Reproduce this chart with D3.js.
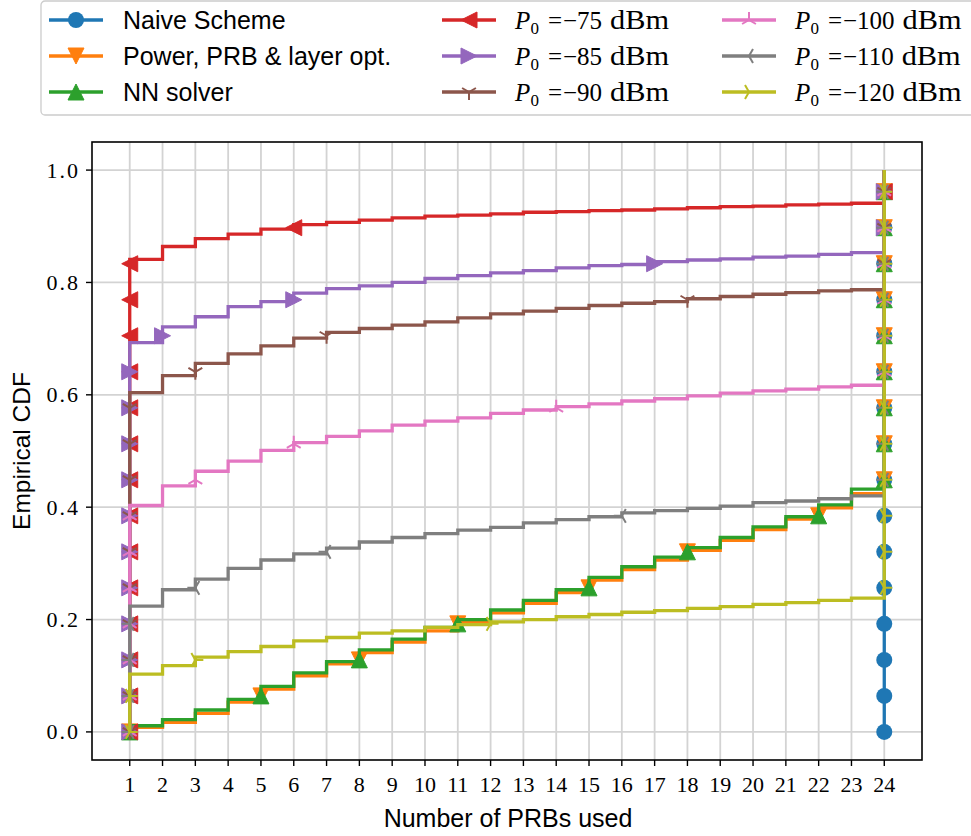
<!DOCTYPE html>
<html><head><meta charset="utf-8">
<script src="https://cdn.jsdelivr.net/npm/d3@7"></script>
<style>body{margin:0;background:#fff} svg{display:block}</style>
</head><body><svg id="c" width="971" height="836"></svg>
<script>
// ECDF values F(k) = P(PRBs used <= k) for k = 1..23 (F(24) = 1)
const prbTicks = [1,2,3,4,5,6,7,8,9,10,11,12,13,14,15,16,17,18,19,20,21,22,23,24];
const yTicks = [0.0,0.2,0.4,0.6,0.8,1.0];
const naive = [0,0,0,0,0,0,0,0,0,0,0,0,0,0,0,0,0,0,0,0,0,0,0];
const powerOpt = [0.008,0.017,0.033,0.053,0.076,0.100,0.121,0.141,0.160,0.180,0.196,0.212,0.229,0.248,0.270,0.289,0.306,0.323,0.341,0.360,0.379,0.399,0.424];
const nnSolver = [0.011,0.022,0.039,0.058,0.081,0.105,0.125,0.146,0.165,0.186,0.200,0.217,0.234,0.253,0.275,0.294,0.311,0.328,0.346,0.365,0.383,0.404,0.432];
const p75 = [0.841,0.864,0.878,0.886,0.895,0.903,0.907,0.911,0.915,0.918,0.920,0.922,0.925,0.926,0.928,0.929,0.931,0.933,0.935,0.936,0.938,0.9395,0.941];
const p85 = [0.693,0.721,0.739,0.757,0.766,0.781,0.789,0.794,0.800,0.807,0.812,0.817,0.821,0.826,0.830,0.832,0.837,0.840,0.842,0.845,0.847,0.850,0.853];
const p90 = [0.604,0.634,0.656,0.673,0.687,0.701,0.711,0.718,0.724,0.730,0.737,0.744,0.749,0.754,0.759,0.763,0.766,0.771,0.775,0.779,0.782,0.785,0.787];
const p100 = [0.403,0.438,0.464,0.482,0.501,0.515,0.526,0.536,0.546,0.553,0.559,0.567,0.573,0.579,0.584,0.589,0.593,0.598,0.603,0.607,0.610,0.614,0.617];
const p110 = [0.224,0.253,0.272,0.291,0.306,0.317,0.327,0.338,0.346,0.353,0.359,0.364,0.372,0.378,0.383,0.390,0.394,0.398,0.402,0.408,0.411,0.415,0.420];
const p120 = [0.103,0.118,0.133,0.143,0.152,0.162,0.168,0.176,0.180,0.186,0.191,0.196,0.200,0.205,0.209,0.213,0.216,0.220,0.223,0.227,0.230,0.234,0.238];
const markerCount = 16, markerStep = 1/15.6;

const series = [
  {name:"Naive Scheme", data:naive, color:"#1f77b4", marker:"o", math:false},
  {name:"Power, PRB & layer opt.", data:powerOpt, color:"#ff7f0e", marker:"v", math:false},
  {name:"NN solver", data:nnSolver, color:"#2ca02c", marker:"^", math:false},
  {name:"75", data:p75, color:"#d62728", marker:"<", math:true},
  {name:"85", data:p85, color:"#9467bd", marker:">", math:true},
  {name:"90", data:p90, color:"#8c564b", marker:"1", math:true},
  {name:"100", data:p100, color:"#e377c2", marker:"2", math:true},
  {name:"110", data:p110, color:"#7f7f7f", marker:"3", math:true},
  {name:"120", data:p120, color:"#bcbd22", marker:"4", math:true}
];

const svg = d3.select("#c");
const L=92, R=922, T=142, B=760;
const x = d3.scaleLinear().domain([1-0.05*23, 24+0.05*23]).range([L,R]);
const y = d3.scaleLinear().domain([-0.05,1.05]).range([B,T]);

// grid
const g = svg.append("g");
g.selectAll(".vg").data(prbTicks).join("line")
  .attr("x1",d=>x(d)).attr("x2",d=>x(d)).attr("y1",T).attr("y2",B)
  .attr("stroke","#d3d3d3").attr("stroke-width",1.8);
g.selectAll(".hg").data(yTicks).join("line")
  .attr("y1",d=>y(d)).attr("y2",d=>y(d)).attr("x1",L).attr("x2",R)
  .attr("stroke","#d3d3d3").attr("stroke-width",1.8);

const H = 8;
function markerPath(m){
  const s=0.866*H;
  switch(m){
    case "v": return `M0,${H}L${-H},${-H}L${H},${-H}Z`;
    case "^": return `M0,${-H}L${-H},${H}L${H},${H}Z`;
    case "<": return `M${-H},0L${H},${-H}L${H},${H}Z`;
    case ">": return `M${H},0L${-H},${-H}L${-H},${H}Z`;
    case "1": return `M0,0L0,${H}M0,0L${-s},${-H/2}M0,0L${s},${-H/2}`;
    case "2": return `M0,0L0,${-H}M0,0L${-s},${H/2}M0,0L${s},${H/2}`;
    case "3": return `M0,0L${-H},0M0,0L${H/2},${-s}M0,0L${H/2},${s}`;
    case "4": return `M0,0L${H},0M0,0L${-H/2},${-s}M0,0L${-H/2},${s}`;
  }
}
function drawMarker(sel, m, color, cx, cy){
  if(m==="o"){
    sel.append("circle").attr("cx",cx).attr("cy",cy).attr("r",H).attr("fill",color);
  } else if("1234".includes(m)){
    sel.append("path").attr("transform",`translate(${cx},${cy})`).attr("d",markerPath(m))
      .attr("fill","none").attr("stroke",color).attr("stroke-width",2);
  } else {
    sel.append("path").attr("transform",`translate(${cx},${cy})`).attr("d",markerPath(m))
      .attr("fill",color).attr("stroke",color).attr("stroke-width",1);
  }
}

const line = d3.line().x(d=>x(d[0])).y(d=>y(d[1]));
const plot = svg.append("g");
series.forEach(s=>{
  const full = [...s.data, 1];
  const pts=[]; let prev=0;
  full.forEach((v,i)=>{ const k=prbTicks[i]; if(v>prev){ pts.push([k,prev]); pts.push([k,v]); } prev=v; });
  const sg = plot.append("g");
  sg.append("path").attr("d",line(pts)).attr("fill","none").attr("stroke",s.color)
    .attr("stroke-width",3.3).attr("stroke-linejoin","miter");
  d3.range(markerCount).forEach(m=>{
    const lev = m*markerStep;
    const idx = full.findIndex(v=>v>lev);
    drawMarker(sg, s.marker, s.color, x(prbTicks[idx]), y(lev));
  });
});

// axes frame
svg.append("rect").attr("x",L).attr("y",T).attr("width",R-L).attr("height",B-T)
  .attr("fill","none").attr("stroke","#000").attr("stroke-width",1.6);
const serif = "'Liberation Serif', 'DejaVu Serif', serif";
const sans = "'Liberation Sans', Arial, sans-serif";
prbTicks.forEach(t=>{
  svg.append("line").attr("x1",x(t)).attr("x2",x(t)).attr("y1",B).attr("y2",B+6).attr("stroke","#000").attr("stroke-width",1.4);
  svg.append("text").attr("x",x(t)).attr("y",B+32).attr("text-anchor","middle")
    .attr("font-family",serif).attr("font-size",22).text(t);
});
yTicks.forEach(t=>{
  svg.append("line").attr("x1",L-6).attr("x2",L).attr("y1",y(t)).attr("y2",y(t)).attr("stroke","#000").attr("stroke-width",1.4);
  svg.append("text").attr("x",L-12).attr("y",y(t)+7.5).attr("text-anchor","end")
    .attr("font-family",serif).attr("font-size",22).attr("letter-spacing",2).text(t.toFixed(1));
});
svg.append("text").attr("x",508).attr("y",827).attr("text-anchor","middle")
  .attr("font-family",sans).attr("font-size",25).text("Number of PRBs used");
svg.append("text").attr("transform",`translate(30,${(T+B)/2}) rotate(-90)`).attr("text-anchor","middle")
  .attr("font-family",sans).attr("font-size",24.5).text("Empirical CDF");

// legend
const lg = svg.append("g");
lg.append("rect").attr("x",41).attr("y",1).attr("width",960).attr("height",114).attr("rx",4)
  .attr("fill","#fff").attr("fill-opacity",0.8).attr("stroke","#cccccc").attr("stroke-width",1.3);
const cols = [{hx:49,tx:123},{hx:442,tx:515},{hx:722,tx:795}];
const rows = [20,56,92];
series.forEach((s,i)=>{
  const c = cols[Math.floor(i/3)], ry = rows[i%3];
  lg.append("line").attr("x1",c.hx).attr("x2",c.hx+54).attr("y1",ry).attr("y2",ry)
    .attr("stroke",s.color).attr("stroke-width",3.3);
  drawMarker(lg, s.marker, s.color, c.hx+27, ry);
  if(!s.math){
    lg.append("text").attr("x",c.tx).attr("y",ry+8.5).attr("font-family",sans).attr("font-size",25).text(s.name);
  } else {
    const t = lg.append("text").attr("y",ry+8.5).attr("font-family",serif).attr("font-size",25);
    t.append("tspan").attr("x",c.tx).attr("font-style","italic").text("P");
    t.append("tspan").attr("x",c.tx+15.5).attr("font-size",17).attr("dy",5).text("0");
    t.append("tspan").attr("x",c.tx+33).attr("dy",-5).text("=");
    t.append("tspan").attr("x",c.tx+48).text("\u2212" + s.name);
    t.append("tspan").attr("dx",8).attr("font-size",26.5)
      .attr("textLength",59).attr("lengthAdjust","spacingAndGlyphs").text("dBm");
  }
});
</script></body></html>
